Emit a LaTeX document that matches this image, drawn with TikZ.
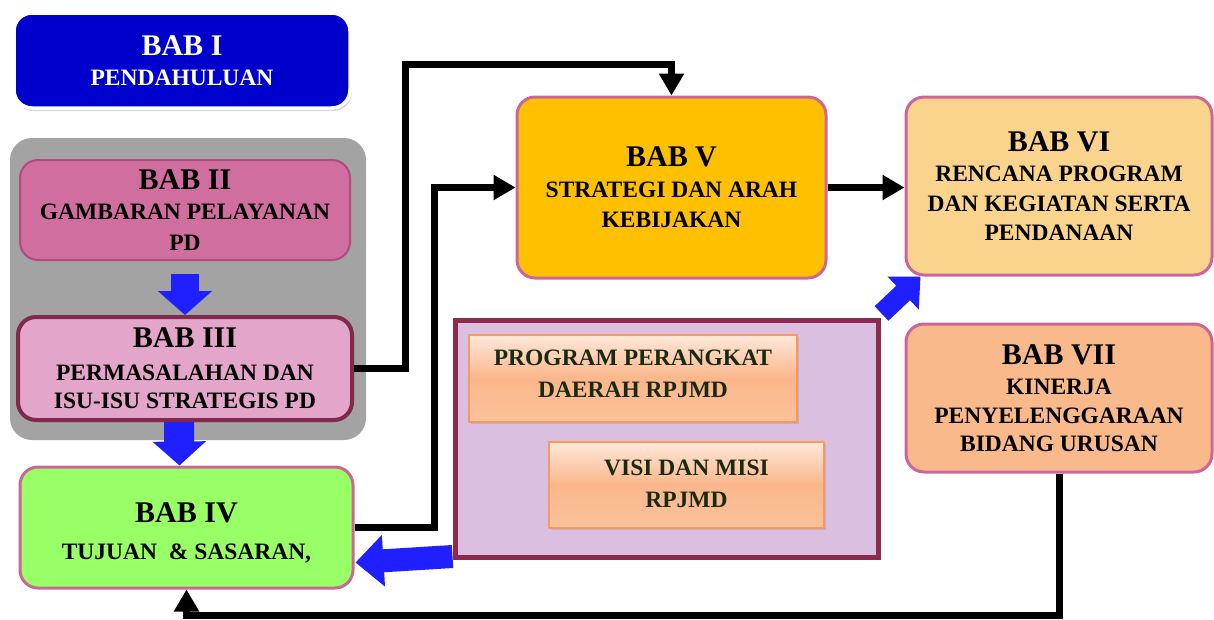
\documentclass[tikz,border=0pt]{standalone}
\usepackage{fontspec}
\setmainfont{Liberation Serif}
\usetikzlibrary{arrows.meta,calc,shadows}
\definecolor{babone}{HTML}{0000CC}
\definecolor{graypanel}{HTML}{A3A3A3}
\definecolor{btwofill}{HTML}{D06EA0}
\definecolor{btwoline}{HTML}{B04C7C}
\definecolor{bthreefill}{HTML}{E3A5C9}
\definecolor{bthreeline}{HTML}{7F2A4A}
\definecolor{bfourfill}{HTML}{99FF66}
\definecolor{bfivefill}{HTML}{FFC000}
\definecolor{bsixfill}{HTML}{FAD48C}
\definecolor{bsevenfill}{HTML}{F9B98B}
\definecolor{pinkline}{HTML}{CC6699}
\definecolor{purfill}{HTML}{DABFE0}
\definecolor{purline}{HTML}{8C2A50}
\definecolor{orgtop}{HTML}{FEE8DA}
\definecolor{orgmid}{HTML}{FBB68A}
\definecolor{orgbot}{HTML}{FCC29C}
\definecolor{orgline}{HTML}{F79A5A}
\definecolor{arrowblue}{HTML}{1F1FFF}
\definecolor{orgtext}{HTML}{1A2A12}
\newcommand\chhead{\fontsize{30}{34}\selectfont}
\newcommand\chbody{\fontsize{23.5}{30.5}\selectfont}
\newcommand\chorg{\fontsize{23.5}{32}\selectfont}
\begin{document}
\begin{tikzpicture}[x=1pt,y=-1pt,
  bab/.style={rounded corners=18pt, line width=3pt, draw=pinkline, align=center,
    inner sep=0pt, font=\bfseries\chbody, text=black},
  orgbox/.style={draw=orgline, line width=1.5pt, top color=orgtop, bottom color=orgbot,
    middle color=orgmid, inner sep=0pt,
    drop shadow={shadow xshift=2pt, shadow yshift=-2pt, opacity=0.25}},
  orgtxt/.style={align=center, font=\bfseries\chorg, text=orgtext, inner sep=0pt},
  blk/.style={line width=7pt, draw=black, -{Triangle[width=24pt,length=22pt]}},
  blu/.style={draw=arrowblue}
]
\useasboundingbox (0,0) rectangle (1214,619);

% BAB I
\node[bab, fill=babone, draw=white, line width=3.5pt, minimum width=336pt, minimum height=95pt,
  text=white, drop shadow={shadow xshift=1.5pt, shadow yshift=-3pt, opacity=0.35}]
  (b1) at (182,60.5) {{\chhead BAB I}\\ PENDAHULUAN};

% grey panel
\node[fill=graypanel, rounded corners=22pt, minimum width=356pt, minimum height=302pt,
  inner sep=0pt] (grp) at (188,289) {};

% BAB II
\node[bab, fill=btwofill, draw=btwoline, line width=2pt, minimum width=330pt, minimum height=100pt]
  (b2) at (185,210) {{\chhead BAB II}\\ GAMBARAN PELAYANAN\\ PD};

% BAB III
\node[bab, fill=bthreefill, draw=bthreeline, line width=4pt, minimum width=334pt, minimum height=103pt]
  (b3) at (185,368.5) {{\chhead BAB III}\\[2pt] PERMASALAHAN DAN\\[-2pt] ISU-ISU STRATEGIS PD};

% BAB IV
\node[bab, fill=bfourfill, minimum width=333pt, minimum height=121pt]
  (b4) at (186.5,527.5) {{\chhead\rule{0pt}{31pt}BAB IV}\\[6pt] TUJUAN\ \ \& SASARAN,};

% BAB V
\node[bab, fill=bfivefill, minimum width=309pt, minimum height=181pt]
  (b5) at (671.5,187.5) {{\chhead BAB V}\\ STRATEGI DAN ARAH\\ KEBIJAKAN};

% BAB VI
\node[bab, fill=bsixfill, minimum width=306pt, minimum height=178pt]
  (b6) at (1059,186) {{\chhead BAB VI}\\ RENCANA PROGRAM\\[-1pt] DAN KEGIATAN SERTA\\[-1pt] PENDANAAN};

% BAB VII
\node[bab, fill=bsevenfill, minimum width=306pt, minimum height=148pt]
  (b7) at (1059,398) {{\chhead BAB VII}\\ KINERJA\\[-2pt] PENYELENGGARAAN\\[-2pt] BIDANG URUSAN};

% purple panel
\node[fill=purfill, draw=purline, line width=5pt, minimum width=423pt, minimum height=237pt,
  inner sep=0pt] (pur) at (666.5,438.5) {};

% orange boxes
\node[orgbox, minimum width=328pt, minimum height=87pt] (prog) at (633,378.5) {};
\node[orgtxt] (progt) at ($(prog)+(0,-5)$) {PROGRAM PERANGKAT\\ DAERAH RPJMD};
\node[orgbox, minimum width=275pt, minimum height=86pt] (visi) at (686.5,485) {};
\node[orgtxt] (visit) at ($(visi)+(0,-1)$) {VISI DAN MISI\\ RPJMD};

% blue block arrows
\draw[blu, line width=28pt, -{Triangle[width=53pt,length=24pt]}]
  ($(b2.south)+(0,13)$) -- (b3.north);
\draw[blu, line width=30pt, -{Triangle[width=52pt,length=24pt]}]
  ($(b3.south)+(-6,0)$) -- ($(b4.north)+(-7,0)$);
\draw[blu, line width=23pt, -{Triangle[width=50pt,length=28pt]}]
  ($(pur.south west)+(0,-3)$) -- ($(b4.east)+(1,35)$);
\draw[blu, line width=20pt, -{Triangle[width=44pt,length=24pt]}]
  ($(pur.north east)+(1,-4)$) -- ($(b6.south west)+(16,0)$);

% black connectors
\draw[blk] (b3.east) -- ++(51,0) |- ($(b5.north)+(0,-31)$) -- (b5.north);
\draw[blk] (b4.east) -- ++(80,0) |- (b5.west);
\draw[blk] (b5.east) -- (b5.east -| b6.west);
\draw[blk] (b7.south) -- ++(0,142) -| (b4.south);
\end{tikzpicture}
\end{document}
